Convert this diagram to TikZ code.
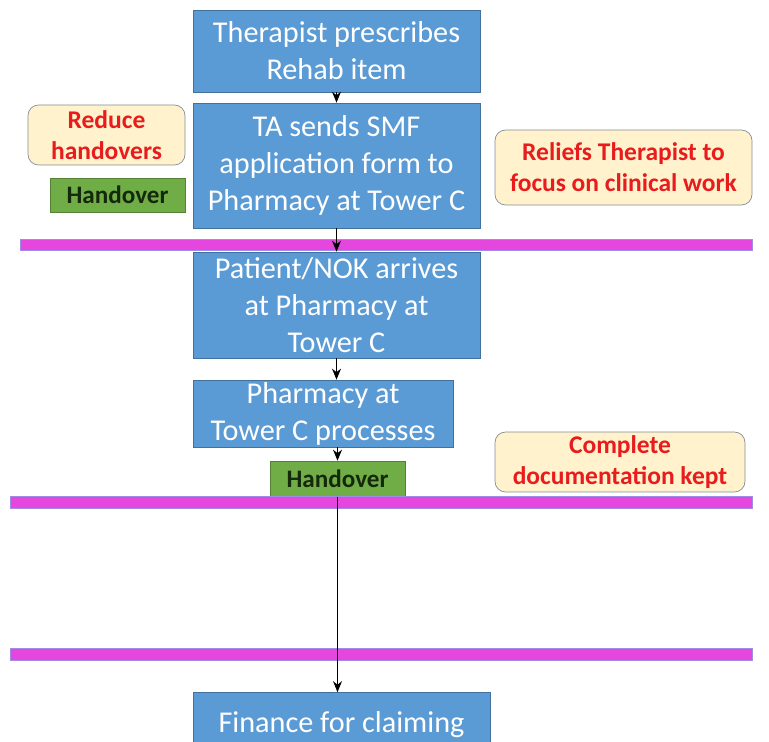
\documentclass[tikz,border=0pt]{standalone}
\usepackage{fontspec}
\setmainfont{Carlito}
\usetikzlibrary{shapes,arrows,arrows.meta}
\definecolor{procblue}{RGB}{91,155,213}
\definecolor{procedge}{RGB}{65,113,156}
\definecolor{notefill}{RGB}{255,242,204}
\definecolor{noteedge}{RGB}{130,140,150}
\definecolor{hofill}{RGB}{112,173,71}
\definecolor{hoedge}{RGB}{84,130,53}
\definecolor{hotext}{RGB}{20,40,10}
\definecolor{notered}{RGB}{232,28,28}
\definecolor{barfill}{RGB}{228,70,222}
\definecolor{baredge}{RGB}{160,140,230}

\begin{document}
\begin{tikzpicture}[scale=1.0000]
	\tikzstyle{process}=[draw=procedge, fill=procblue, text=white, align=center, font=\fontsize{17.2}{21}\selectfont, inner sep=0pt]
	\tikzstyle{benefit}=[draw=noteedge, fill=notefill, text=notered, rounded corners=6pt, align=center, font=\fontsize{14.5}{17.5}\selectfont\bfseries, inner sep=0pt]
	\tikzstyle{handover}=[draw=hoedge, fill=hofill, text=hotext, align=center, font=\fontsize{14.3}{16}\selectfont\bfseries, inner sep=0pt]
	\tikzstyle{bar}=[draw=baredge, fill=barfill, line width=0.4pt]
	\tikzstyle{flow}=[-{Stealth[length=2.2mm,width=1.8mm]}, line width=0.6pt, black]

	\useasboundingbox (0.0000,0.0000) rectangle (15.3800,-14.8400);

	%% process boxes
	\node [process, minimum width=5.7400cm, minimum height=1.6400cm] (prescribe) at (6.7300,-1.0200) {Therapist prescribes\\Rehab item};
	\node [process, minimum width=5.7400cm, minimum height=2.5000cm] (send) at (6.7300,-3.3100) {TA sends SMF\\application form to\\Pharmacy at Tower C};
	\node [process, minimum width=5.7400cm, minimum height=2.1200cm] (arrive) at (6.7300,-6.1000) {Patient/NOK arrives\\at Pharmacy at\\Tower C};
	\node [process, minimum width=5.2000cm, minimum height=1.3400cm] (processes) at (6.4600,-8.2700) {Pharmacy at\\Tower C processes};
	\node [process, minimum width=5.9400cm, minimum height=1.3000cm] (finance) at (6.8300,-14.5000) {Finance for claiming};

	%% notes
	\node [benefit, minimum width=3.1400cm, minimum height=1.2000cm] (reduce) at (2.1300,-2.7000) {Reduce\\handovers};
	\node [benefit, minimum width=5.1400cm, minimum height=1.5000cm] (reliefs) at (12.4700,-3.3500) {Reliefs Therapist to\\focus on clinical work};
	\node [benefit, minimum width=5.0000cm, minimum height=1.2000cm] (complete) at (12.4000,-9.2400) {Complete\\documentation kept};

	%% handovers
	\node [handover, minimum width=2.7000cm, minimum height=0.6800cm] (handoverA) at (2.3500,-3.9000) {Handover};
	\node [handover, minimum width=2.7000cm, minimum height=0.7200cm] (handoverB) at (6.7500,-9.5800) {Handover};

	%% separators
	\draw [bar] (0.4000,-4.7800) rectangle (15.0400,-5.0000);
	\draw [bar] (0.2000,-9.9200) rectangle (15.0400,-10.1600);
	\draw [bar] (0.2000,-12.9600) rectangle (15.0400,-13.2000);

	%% flow
	\draw [flow] (prescribe.south) -- (send.north);
	\draw [flow] (send.south) -- (arrive.north);
	\draw [flow] (arrive.south) -- (arrive.south |- processes.north);
	\draw [flow] (processes.south -| handoverB.north) -- (handoverB.north);
	\draw [flow] (handoverB.south) -- (handoverB.south |- finance.north);

\end{tikzpicture}
\end{document}
